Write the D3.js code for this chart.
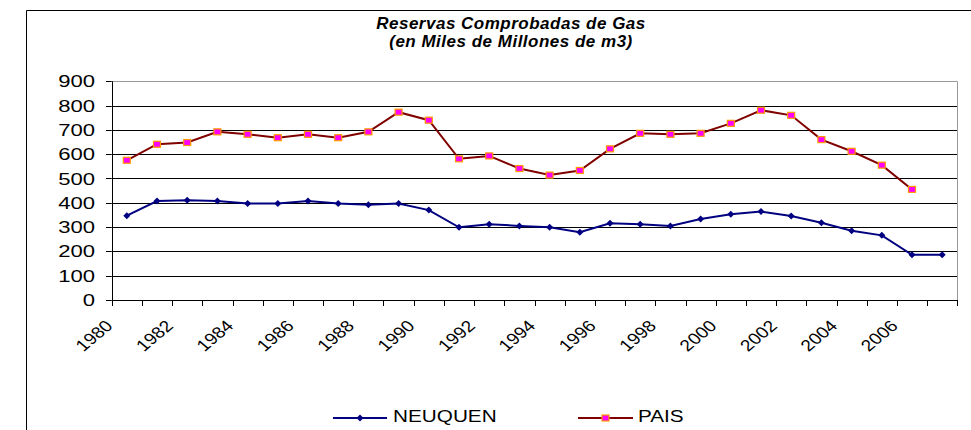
<!DOCTYPE html>
<html>
<head>
<meta charset="utf-8">
<script src="https://cdnjs.cloudflare.com/ajax/libs/d3/7.8.5/d3.min.js"></script>
<style>
    body { margin: 0; background: #fff; }
    svg { display: block; font-family: Arial, 'Liberation Sans', sans-serif; }
</style>
</head>
<body>
<svg id="chart" width="971" height="430"></svg>
<script>
const years = [ '1980', '1981', '1982', '1983', '1984', '1985', '1986', '1987', '1988', '1989',
    '1990', '1991', '1992', '1993', '1994', '1995', '1996', '1997', '1998', '1999',
    '2000', '2001', '2002', '2003', '2004', '2005', '2006', '2007' ];

const neuquen = [ 347, 407, 411, 407, 397, 397, 407, 397, 392, 397,
    370, 299, 312, 305, 299, 279, 316, 312, 305, 333,
    353, 364, 346, 318, 285, 266, 186, 186 ];

const pais = [ 575, 641, 648, 692, 682, 668, 682, 668, 692, 773,
    740, 581, 593, 541, 514, 533, 622, 686, 682, 686,
    727, 781, 760, 660, 612, 555, 455, null ];

const yTicks = [ 0, 100, 200, 300, 400, 500, 600, 700, 800, 900 ];
const xLabels = [ '1980', '1982', '1984', '1986', '1988', '1990', '1992',
    '1994', '1996', '1998', '2000', '2002', '2004', '2006' ];

const titleLines = [ 'Reservas Comprobadas de Gas', '(en Miles de Millones de m3)' ];
const seriesNames = [ 'NEUQUEN', 'PAIS' ];

// the picture is stretched sideways, so axis text gets a horizontal scale
const sx = 1.3;

const svg = d3.select( '#chart' );
const pLeft = 111.7, pRight = 957.3, pTop = 81.3, pBottom = 300;

const x = d3.scaleBand().domain( years ).range( [ pLeft, pRight ] );
const y = d3.scaleLinear().domain( [ 0, 900 ] ).range( [ pBottom, pTop ] );
const cx = d => x( d ) + x.bandwidth() / 2;

// outer chart frame (runs off the right and bottom of the picture)
svg.append( 'path' )
    .attr( 'd', 'M26.5,440V10.5H980' )
    .attr( 'fill', 'none' )
    .attr( 'stroke', '#000' );

// title
titleLines.forEach( ( t, i ) => {
    svg.append( 'text' )
        .attr( 'x', 511 )
        .attr( 'y', 28.5 + i * 18.5 )
        .attr( 'text-anchor', 'middle' )
        .attr( 'font-size', 17 )
        .attr( 'font-style', 'italic' )
        .attr( 'font-weight', 'bold' )
        .attr( 'letter-spacing', 0.5 )
        .attr( 'fill', '#000' )
        .text( t );
} );

// grid lines
svg.append( 'g' )
    .selectAll( 'line' )
    .data( yTicks.filter( d => d > 0 && d < 900 ) )
    .enter().append( 'line' )
    .attr( 'x1', pLeft ).attr( 'x2', pRight )
    .attr( 'y1', d => Math.round( y( d ) ) + 0.5 )
    .attr( 'y2', d => Math.round( y( d ) ) + 0.5 )
    .attr( 'stroke', '#000' );

// plot area border top / right
svg.append( 'path' )
    .attr( 'd', `M${ pLeft },${ Math.round( pTop ) + 0.5 }H${ Math.round( pRight ) + 0.5 }V${ pBottom }` )
    .attr( 'fill', 'none' )
    .attr( 'stroke', '#999' );

// y axis
svg.append( 'line' )
    .attr( 'x1', Math.round( pLeft ) + 0.5 ).attr( 'x2', Math.round( pLeft ) + 0.5 )
    .attr( 'y1', pTop ).attr( 'y2', pBottom )
    .attr( 'stroke', '#000' );

const yt = svg.append( 'g' ).selectAll( 'g' ).data( yTicks ).enter().append( 'g' );
yt.append( 'line' )
    .attr( 'x1', 106 ).attr( 'x2', pLeft )
    .attr( 'y1', d => Math.round( y( d ) ) + 0.5 )
    .attr( 'y2', d => Math.round( y( d ) ) + 0.5 )
    .attr( 'stroke', '#000' );
yt.append( 'text' )
    .attr( 'transform', d => `translate(95,${ y( d ) + 6 }) scale(${ sx },1)` )
    .attr( 'text-anchor', 'end' )
    .attr( 'font-size', 17 )
    .attr( 'fill', '#000' )
    .text( d => d );

// x axis
svg.append( 'line' )
    .attr( 'x1', pLeft ).attr( 'x2', pRight )
    .attr( 'y1', pBottom + 0.5 ).attr( 'y2', pBottom + 0.5 )
    .attr( 'stroke', '#000' );

svg.append( 'g' )
    .selectAll( 'line' )
    .data( years.concat( [ null ] ) )
    .enter().append( 'line' )
    .attr( 'x1', d => Math.round( d ? x( d ) : pRight ) + 0.5 )
    .attr( 'x2', d => Math.round( d ? x( d ) : pRight ) + 0.5 )
    .attr( 'y1', pBottom ).attr( 'y2', pBottom + 6 )
    .attr( 'stroke', '#000' );

svg.append( 'g' )
    .selectAll( 'text' )
    .data( xLabels )
    .enter().append( 'text' )
    .attr( 'transform', d => `translate(${ cx( d ) - 13 },327) scale(1.2,1) rotate(-45)` )
    .attr( 'text-anchor', 'end' )
    .attr( 'font-size', 16 )
    .attr( 'fill', '#000' )
    .text( d => d );

// series
const neuData = years.map( ( d, i ) => ( { year: d, value: neuquen[ i ] } ) );
const paisData = years.map( ( d, i ) => ( { year: d, value: pais[ i ] } ) ).filter( d => d.value != null );

const line = d3.line().x( d => cx( d.year ) ).y( d => y( d.value ) );

svg.append( 'path' )
    .datum( neuData )
    .attr( 'd', line )
    .attr( 'fill', 'none' )
    .attr( 'stroke', '#000080' )
    .attr( 'stroke-width', 2 );

svg.append( 'path' )
    .datum( paisData )
    .attr( 'd', line )
    .attr( 'fill', 'none' )
    .attr( 'stroke', '#800000' )
    .attr( 'stroke-width', 2 );

const diamond = ( sel, px, py ) => sel.append( 'path' )
    .attr( 'd', `M${ px },${ py - 3.5 }L${ px + 3.5 },${ py }L${ px },${ py + 3.5 }L${ px - 3.5 },${ py }Z` )
    .attr( 'fill', '#000080' );

const square = ( sel, px, py ) => sel.append( 'rect' )
    .attr( 'x', px - 3.5 ).attr( 'y', py - 3 )
    .attr( 'width', 7 ).attr( 'height', 6 )
    .attr( 'fill', '#ff00ff' )
    .attr( 'stroke', '#ff9900' )
    .attr( 'stroke-width', 1.2 );

const marks = svg.append( 'g' );
neuData.forEach( d => diamond( marks, cx( d.year ), y( d.value ) ) );
paisData.forEach( d => square( marks, cx( d.year ), y( d.value ) ) );

// legend
const legend = [
    { name: seriesNames[ 0 ], color: '#000080', x0: 333, x1: 387, tx: 393, mark: diamond },
    { name: seriesNames[ 1 ], color: '#800000', x0: 578, x1: 633, tx: 638, mark: square }
];

legend.forEach( l => {
    svg.append( 'line' )
        .attr( 'x1', l.x0 ).attr( 'x2', l.x1 )
        .attr( 'y1', 418 ).attr( 'y2', 418 )
        .attr( 'stroke', l.color )
        .attr( 'stroke-width', 2 );
    l.mark( svg, ( l.x0 + l.x1 ) / 2, 418 );
    svg.append( 'text' )
        .attr( 'transform', `translate(${ l.tx },421.7) scale(1.22,1)` )
        .attr( 'font-size', 17 )
        .attr( 'fill', '#000' )
        .text( l.name );
} );
</script>
</body>
</html>
